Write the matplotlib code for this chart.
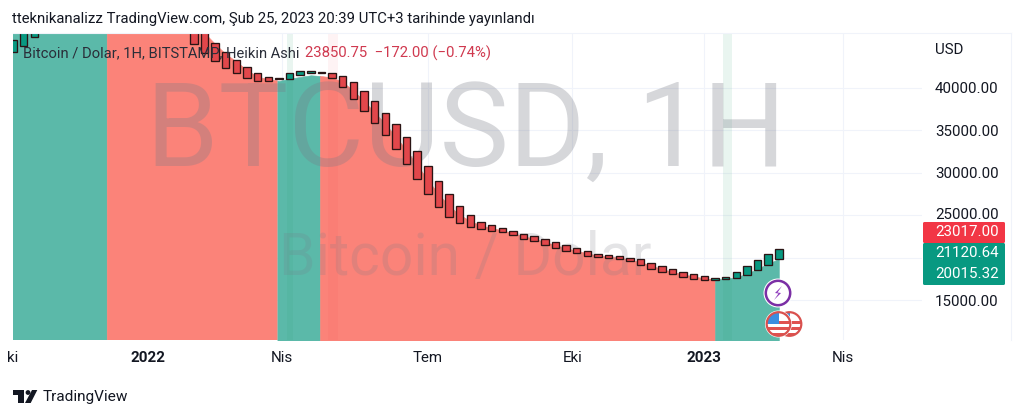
import numpy as np
import pandas as pd
import matplotlib
matplotlib.use('Agg')
import matplotlib.pyplot as plt
import matplotlib.patches as patches
from matplotlib.lines import Line2D
from matplotlib.transforms import IdentityTransform

plt.rcParams['font.family'] = ['Roboto', 'DejaVu Sans']

# weekly heikin ashi candles, oldest first, the ones from 2021-10 to 2022-02 run off the top
opens = [44280, 44950, 45970,
         47000, 50000, 53000, 56000, 59000, 61000, 63000, 62000, 59000, 56000,
         54000, 53000, 52000, 50500, 48000,
         46900, 45340, 44280, 43300, 42440, 41800, 41290,
         41060, 41090, 41490, 41760,
         41920, 41800, 41450, 40740, 39680, 38430, 37080, 35750, 34250, 32600,
         30830, 29070, 27460, 26080, 25020, 24230, 23810, 23450, 23170, 22840,
         22550, 22190, 21840, 21450, 21130, 20780, 20460, 20270, 20150, 19990,
         19800, 19400, 19040, 18620, 18300, 18070, 17790,
         17390, 17480, 17590, 17980, 18570, 19160, 19830]
closes = [45650, 47500, 47000,
          50000, 53000, 56000, 59000, 61000, 63000, 62000, 59000, 56000, 54000,
          53000, 52000, 50500, 48000, 45150,
          44090, 43210, 42320, 41730, 41210, 40820, 40820,
          41140, 41730, 42000, 42000,
          41730, 41170, 40080, 38660, 37250, 35830, 34450, 32770, 31030, 29230,
          27460, 25930, 24750, 24040, 23610, 23370, 23170, 22980, 22630, 22230,
          21920, 21520, 21130, 20780, 20510, 20220, 20030, 19990, 19870, 19560,
          19160, 18690, 18300, 18030, 17750, 17510, 17320,
          17560, 17710, 18300, 19040, 19720, 20420, 21050]
area_values = [47500, 48000, 48500,
               50000, 54000, 57000, 60000, 62000, 63000, 62000, 60000, 57000, 55000,
               53000, 52000, 51000, 50000, 47200,
               46500, 45200, 44000, 43100, 42100, 41300, 41000,
               40820, 41100, 41300, 41500,
               41400, 41250, 40700, 39700, 38450, 37130, 35760, 34260, 32640, 30900,
               29150, 27500, 26100, 25060, 24300, 23800, 23490, 23210, 22900, 22530,
               22230, 21850, 21480, 21110, 20820, 20500, 20240, 20130, 20010, 19770,
               19480, 19040, 18670, 18320, 18020, 17790, 17550,
               17450, 17500, 17700, 18100, 18700, 19300, 19850]
last_week = '2023-02-20'
# area colour changes on these days
area_starts = ['2021-09-27', '2021-12-05', '2022-03-27', '2022-04-24', '2023-01-09']
area_ends = ['2021-12-05', '2022-03-27', '2022-04-24', '2023-01-09', '2023-02-20']
area_colors = ['#5bb9a9', '#fb8379', '#5bb9a9', '#fb8379', '#5bb9a9']

y_ticks = [15000, 20000, 25000, 30000, 35000, 40000]
y_labels = ['15000.00', '', '', '30000.00', '35000.00', '40000.00']
x_tick_dates = ['2021-10-04', '2022-01-01', '2022-03-30', '2022-07-04', '2022-10-07', '2023-01-02', '2023-04-03']
x_tick_labels = ['ki', '2022', 'Nis', 'Tem', 'Eki', '2023', 'Nis']
x_tick_bold = [False, True, False, False, False, True, False]

price_tags = ['23017.00', '21120.64', '20015.32']

weeks = pd.date_range(end=last_week, periods=len(opens), freq='7D')
x = weeks.values.astype('datetime64[D]').astype(float)
opens = np.array(opens)
closes = np.array(closes)
area_values = np.array(area_values)


def day(s):
    return np.datetime64(s, 'D').astype(float)


fig = plt.figure(figsize=(10.24, 4.18), dpi=100, facecolor='white')
W, H = 1024, 418
ax = fig.add_axes([13 / W, 1 - 340 / H, (922 - 13) / W, (340 - 33) / H])

# area under the candles
for s, e, c in zip(area_starts, area_ends, area_colors):
    s, e = day(s), day(e)
    xs = np.r_[s, x[(x > s) & (x < e)], e]
    ys = np.interp(xs, x, area_values)
    ax.fill_between(xs, 0, ys, color=c, lw=0.4, zorder=2)

# session bands
ax.axvspan(day('2022-04-02'), day('2022-04-06'), color='#2e9e6f', alpha=0.10, lw=0, zorder=3)
ax.axvspan(day('2022-04-29'), day('2022-05-06'), color='#f23645', alpha=0.06, lw=0, zorder=3)
ax.axvspan(day('2023-01-14'), day('2023-01-20'), color='#2e9e6f', alpha=0.10, lw=0, zorder=3)

# watermark
ax.text(0.498, 0.671, 'BTCUSD, 1H', transform=ax.transAxes, ha='center', va='center',
        fontsize=84, color='#787b86', alpha=0.3, zorder=4)
ax.text(0.498, 0.267, 'Bitcoin / Dolar', transform=ax.transAxes, ha='center', va='center',
        fontsize=42.3, color='#787b86', alpha=0.2, zorder=4)

# candles
bottoms = np.minimum(opens, closes)
heights = np.abs(closes - opens)
colors = ['#089981' if c >= o else '#e2474b' for o, c in zip(opens, closes)]
ax.bar(x, heights, bottom=bottoms, width=4.9, color=colors, edgecolor='#2a1414', linewidth=0.95, zorder=5)

ax.set_xlim(x[-1] - 503.3, x[-1] + 94.2)
ax.set_ylim(10284, 46480)
ax.set_yticks(y_ticks)
ax.set_yticklabels(y_labels)
ax.yaxis.tick_right()
ax.tick_params(axis='y', length=0, pad=9.4, labelsize=10.9, labelcolor='#131722')
ax.set_xticks([day(d) for d in x_tick_dates])
ax.set_xticklabels(x_tick_labels)
ax.tick_params(axis='x', length=0, pad=8.2, labelsize=10.9, labelcolor='#131722')
for lab, b in zip(ax.get_xticklabels(), x_tick_bold):
    if b:
        lab.set_fontweight('bold')
ax.grid(True, color='#f0f3fa', lw=0.8, zorder=0)
ax.set_axisbelow(True)
for s in ax.spines.values():
    s.set_visible(False)


def px_text(px, py, s, **kw):
    fig.text(px / W, 1 - py / H, s, va='center', **kw)


# price scale extras
px_text(935, 50, 'USD', fontsize=10.9, color='#131722')
px_text(935, 215, '25000.00', fontsize=10.9, color='#131722')
fig.add_artist(patches.FancyBboxPatch((923, H - 243), 82, 21, boxstyle='round,pad=0,rounding_size=1.5',
                                      transform=IdentityTransform(), fc='#f23645', ec='none', zorder=6))
fig.add_artist(patches.FancyBboxPatch((923, H - 285), 82, 42, boxstyle='round,pad=0,rounding_size=1.5',
                                      transform=IdentityTransform(), fc='#089981', ec='none', zorder=6))
for py, s in zip([232, 253, 274], price_tags):
    t = fig.text(935 / W, 1 - py / H, s, va='center', fontsize=10.9, color='white', zorder=7)

# frame lines
fig.add_artist(Line2D([13 / W, 1011 / W], [1 - 33 / H, 1 - 33 / H], color='#f0f3fa', lw=0.8))
fig.add_artist(Line2D([1011 / W, 1011 / W], [1 - 33 / H, 1 - 340 / H], color='#f0f3fa', lw=0.8))

# header, legend, footer
px_text(12, 19, 'tteknikanalizz TradingView.com, Şub 25, 2023 20:39 UTC+3 tarihinde yayınlandı',
        fontsize=10.68, color='#131722')
px_text(23, 53, 'Bitcoin / Dolar, 1H, BITSTAMP, Heikin Ashi', fontsize=10.6, color='#2a2e39', zorder=8)
px_text(305, 53, '23850.75  −172.00 (−0.74%)', fontsize=10.7, color='#d0394f', zorder=8)
px_text(43, 397, 'TradingView', fontsize=11.1, color='#131722')


def px_patch(p):
    p.set_transform(IdentityTransform())
    p.set_zorder(9)
    fig.add_artist(p)
    return p


# tradingview logo
px_patch(patches.Polygon([(13, H - 390), (24, H - 390), (24, H - 403), (18, H - 403), (18, H - 395), (13, H - 395)], fc='#131722', ec='none'))
px_patch(patches.Circle((28, H - 392.5), 2.4, fc='#131722', ec='none'))
px_patch(patches.Polygon([(32, H - 390), (37.3, H - 390), (30.7, H - 403), (25, H - 403)], fc='#131722', ec='none'))


def flag_coin(cx, cy):
    px_patch(patches.Circle((cx, H - cy), 13.5, fc='white', ec='none'))
    rim = px_patch(patches.Circle((cx, H - cy), 11.5, fc='white', ec='none'))
    for dy in (-3, 3, 9):
        stripe = px_patch(patches.Rectangle((cx - 12, H - cy - dy - 3), 24, 3, fc='#e0524f', ec='none'))
        stripe.set_clip_path(rim)
    canton = px_patch(patches.Rectangle((cx - 12, H - cy), 12, 12, fc='#3b8ee0', ec='none'))
    canton.set_clip_path(rim)
    px_patch(patches.Circle((cx, H - cy), 11.8, fc='none', ec='#d9514e', lw=1.6))


# event icons
flag_coin(789.5, 324)
flag_coin(778.5, 324)
px_patch(patches.Circle((778, H - 293), 14.5, fc='white', ec='none'))
px_patch(patches.Circle((778, H - 293), 12.2, fc='white', ec='#7b2fa5', lw=1.8))
px_patch(patches.Polygon([(782, H - 286), (775, H - 293), (778.5, H - 293.5), (774, H - 300), (781, H - 293), (777.5, H - 292.5)], fc='#8e3bbd', ec='none'))

fig.savefig('out.png', dpi=100)
